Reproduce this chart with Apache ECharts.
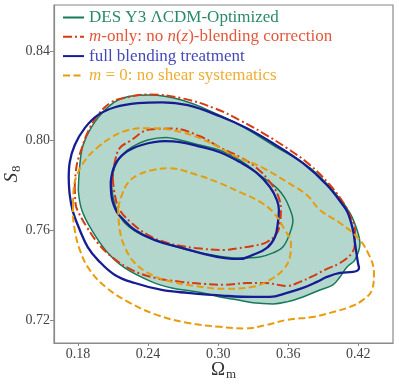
<!DOCTYPE html>
<html>
<head>
<meta charset="utf-8">
<script src="https://cdn.jsdelivr.net/npm/echarts@6.0.0/dist/echarts.min.js"></script>
<style>
html, body { margin: 0; padding: 0; background: #fff; }
#chart { width: 399px; height: 387px; }
</style>
</head>
<body>
<div id="chart"></div>
<script>
// axis ticks
var xTicks = [0.18, 0.24, 0.30, 0.36, 0.42];
var yTicks = [0.72, 0.76, 0.80, 0.84];

// contour points [Omega_m, S8]
// DES Y3 LCDM-Optimized (filled)
var greenOuter = [
  [0.1802,0.7781],[0.1815,0.7892],[0.1843,0.7981],[0.1915,0.8061],[0.2029,0.8136],[0.2172,0.8188],
  [0.2415,0.8203],[0.2686,0.8181],[0.2972,0.8123],[0.3186,0.8070],[0.3469,0.7981],[0.3786,0.7879],
  [0.4017,0.7758],[0.4129,0.7678],[0.4189,0.7603],[0.4214,0.7545],[0.4171,0.7470],[0.4103,0.7438],
  [0.4043,0.7394],[0.3983,0.7359],[0.3871,0.7336],[0.3726,0.7305],[0.3589,0.7283],[0.3469,0.7274],
  [0.3297,0.7279],[0.3160,0.7292],[0.3014,0.7305],[0.2826,0.7327],[0.2603,0.7345],[0.2432,0.7372],
  [0.2200,0.7434],[0.2055,0.7501],[0.1917,0.7603],[0.1832,0.7692]
];
var greenInner = [
  [0.2086,0.7816],[0.2097,0.7758],[0.2132,0.7692],[0.2200,0.7634],[0.2346,0.7581],[0.2543,0.7545],
  [0.2740,0.7514],[0.2946,0.7492],[0.3057,0.7483],[0.3186,0.7478],[0.3357,0.7483],[0.3469,0.7501],
  [0.3554,0.7527],[0.3614,0.7589],[0.3640,0.7647],[0.3614,0.7696],[0.3571,0.7745],[0.3503,0.7789],
  [0.3357,0.7847],[0.3186,0.7914],[0.3014,0.7958],[0.2843,0.7981],[0.2672,0.8003],[0.2552,0.8014],
  [0.2397,0.8003],[0.2260,0.7971],[0.2175,0.7936],[0.2115,0.7883]
];
// m-only: no n(z)-blending correction
var redOuter = [
  [0.1772,0.7803],[0.1780,0.7714],[0.1802,0.7683],[0.1875,0.7616],[0.1969,0.7545],[0.2089,0.7483],
  [0.2260,0.7425],[0.2457,0.7390],[0.2689,0.7372],[0.2886,0.7363],[0.3057,0.7359],[0.3246,0.7367],
  [0.3400,0.7367],[0.3589,0.7354],[0.3700,0.7372],[0.3811,0.7398],[0.3931,0.7430],[0.4043,0.7456],
  [0.4146,0.7501],[0.4171,0.7545],[0.4171,0.7603],[0.4129,0.7669],[0.4068,0.7727],[0.3957,0.7803],
  [0.3786,0.7892],[0.3589,0.7967],[0.3383,0.8034],[0.3186,0.8091],[0.2972,0.8144],[0.2689,0.8189],
  [0.2415,0.8206],[0.2172,0.8188],[0.2072,0.8167],[0.1969,0.8114],[0.1883,0.8038],[0.1832,0.7967],
  [0.1789,0.7892]
];
var redInner = [
  [0.2097,0.7834],[0.2115,0.7758],[0.2157,0.7692],[0.2260,0.7634],[0.2397,0.7581],[0.2569,0.7545],
  [0.2800,0.7523],[0.3057,0.7514],[0.3160,0.7521],[0.3297,0.7532],[0.3417,0.7549],[0.3503,0.7589],
  [0.3529,0.7634],[0.3537,0.7692],[0.3511,0.7758],[0.3443,0.7816],[0.3332,0.7878],[0.3186,0.7927],
  [0.3014,0.7971],[0.2843,0.8020],[0.2612,0.8054],[0.2415,0.8050],[0.2243,0.7998],[0.2157,0.7967],
  [0.2115,0.7905]
];
// full blending treatment
var blueOuter = [
  [0.1720,0.7834],[0.1729,0.7758],[0.1755,0.7687],[0.1815,0.7603],[0.1883,0.7527],[0.1969,0.7470],
  [0.2115,0.7403],[0.2286,0.7367],[0.2517,0.7336],[0.2740,0.7323],[0.3057,0.7310],[0.3297,0.7305],
  [0.3443,0.7305],[0.3589,0.7323],[0.3726,0.7345],[0.3846,0.7372],[0.3931,0.7394],[0.4043,0.7412],
  [0.4154,0.7416],[0.4206,0.7434],[0.4197,0.7456],[0.4171,0.7545],[0.4154,0.7603],[0.4111,0.7678],
  [0.4068,0.7714],[0.3931,0.7803],[0.3726,0.7900],[0.3469,0.7989],[0.3246,0.8056],[0.3014,0.8109],
  [0.2740,0.8158],[0.2517,0.8171],[0.2312,0.8167],[0.2115,0.8149],[0.1969,0.8114],[0.1857,0.8056],
  [0.1772,0.7981],[0.1729,0.7905]
];
var blueInner = [
  [0.2080,0.7816],[0.2089,0.7745],[0.2132,0.7683],[0.2175,0.7656],[0.2286,0.7603],[0.2457,0.7558],
  [0.2689,0.7523],[0.2912,0.7492],[0.3057,0.7478],[0.3186,0.7474],[0.3297,0.7492],[0.3417,0.7523],
  [0.3486,0.7572],[0.3511,0.7634],[0.3520,0.7692],[0.3503,0.7736],[0.3443,0.7794],[0.3332,0.7856],
  [0.3186,0.7905],[0.3014,0.7949],[0.2843,0.7974],[0.2672,0.7994],[0.2543,0.7998],[0.2346,0.7981],
  [0.2200,0.7945],[0.2115,0.7892]
];
// m = 0: no shear systematics
var orangeOuter = [
  [0.1757,0.7714],[0.1757,0.7678],[0.1772,0.7603],[0.1815,0.7514],[0.1900,0.7425],[0.2046,0.7345],
  [0.2243,0.7279],[0.2474,0.7225],[0.2732,0.7190],[0.3014,0.7172],[0.3229,0.7165],[0.3417,0.7181],
  [0.3589,0.7203],[0.3811,0.7216],[0.3957,0.7234],[0.4129,0.7261],[0.4240,0.7292],[0.4317,0.7336],
  [0.4334,0.7412],[0.4283,0.7501],[0.4189,0.7572],[0.4043,0.7634],[0.3871,0.7692],[0.3760,0.7758],
  [0.3589,0.7816],[0.3383,0.7879],[0.3126,0.7936],[0.2972,0.7981],[0.2689,0.8038],[0.2397,0.8056],
  [0.2226,0.8047],[0.2089,0.8016],[0.1969,0.7971],[0.1875,0.7923],[0.1797,0.7856],[0.1763,0.7789]
];
var orangeInner = [
  [0.2143,0.7700],[0.2157,0.7603],[0.2200,0.7527],[0.2286,0.7456],[0.2432,0.7403],[0.2603,0.7372],
  [0.2800,0.7354],[0.3057,0.7341],[0.3297,0.7350],[0.3443,0.7381],[0.3554,0.7425],[0.3614,0.7483],
  [0.3623,0.7545],[0.3571,0.7603],[0.3469,0.7683],[0.3332,0.7736],[0.3186,0.7771],[0.3014,0.7811],
  [0.2826,0.7847],[0.2569,0.7878],[0.2432,0.7869],[0.2312,0.7847],[0.2226,0.7811],[0.2175,0.7758]
];

var names = ['DES Y3 \u039bCDM-Optimized', 'm-only: no n(z)-blending correction',
             'full blending treatment', 'm = 0: no shear systematics'];
var serif = '"Liberation Serif", "DejaVu Serif", serif';

function closed(arr) { return arr.concat([arr[0]]); }

function contour(name, pts, color, width, dash, z) {
  return {
    type: 'line', name: name, data: closed(pts),
    smooth: 0.4, symbol: 'none', z: z, animation: false,
    lineStyle: { color: color, width: width, type: dash },
    // only hides the dot that the legend adds to line icons
    itemStyle: { color: color, opacity: 0 }
  };
}

var chart = echarts.init(document.getElementById('chart'));
chart.setOption({
  backgroundColor: '#fff',
  animation: false,
  grid: { left: 54, right: 6, top: 5, bottom: 44, outerBoundsMode: 'none',
          show: true, borderColor: '#8a8a8a', borderWidth: 1.2 },
  legend: {
    orient: 'vertical', left: 62, top: 9, padding: 0,
    itemWidth: 21, itemHeight: 12, itemGap: 2.3, itemTextGap: 4,
    selectedMode: false,
    textStyle: { fontFamily: serif, fontSize: 17, rich: { i: { fontStyle: 'italic', fontFamily: serif, fontSize: 17 } } },
    formatter: function (n) {
      return n.replace('m-only', '{i|m}-only').replace('n(z)', '{i|n}({i|z})').replace('m = 0', '{i|m} = 0');
    },
    data: [
      { name: names[0], textStyle: { color: '#2a8a68' } },
      { name: names[1], textStyle: { color: '#e4573a' } },
      { name: names[2], textStyle: { color: '#4448bb' } },
      { name: names[3], textStyle: { color: '#f0ad34' } }
    ]
  },
  xAxis: {
    type: 'value', min: 0.1594, max: 0.4497,
    name: '{a|\u03a9}{b|m}', nameLocation: 'middle', nameGap: 16, nameMoveOverlap: false,
    nameTextStyle: { rich: {
      a: { fontFamily: serif, fontSize: 19, color: '#333' },
      b: { fontFamily: serif, fontSize: 13, color: '#333', padding: [9, 0, 0, 1] }
    } },
    axisLine: { show: true, lineStyle: { color: '#8a8a8a', width: 1.2 } },
    axisTick: { show: true, length: 3, customValues: xTicks, lineStyle: { color: '#8a8a8a' } },
    axisLabel: { customValues: xTicks, fontFamily: serif, fontSize: 14, color: '#444', margin: 4,
                 formatter: function (v) { return v.toFixed(2); } },
    splitLine: { show: false }
  },
  yAxis: {
    type: 'value', min: 0.71, max: 0.8604,
    name: '{a|S}{b|8}', nameLocation: 'middle', nameGap: 31, nameMoveOverlap: false,
    nameTextStyle: { rich: {
      a: { fontFamily: serif, fontSize: 19, fontStyle: 'italic', color: '#333' },
      b: { fontFamily: serif, fontSize: 13, color: '#333', padding: [9, 0, 0, 1] }
    } },
    axisLine: { show: true, lineStyle: { color: '#8a8a8a', width: 1.2 } },
    axisTick: { show: true, length: 4, customValues: yTicks, lineStyle: { color: '#8a8a8a' } },
    axisLabel: { customValues: yTicks, fontFamily: serif, fontSize: 14, color: '#444', margin: 4,
                 formatter: function (v) { return v.toFixed(2); } },
    splitLine: { show: false }
  },
  series: [
    {
      type: 'custom', name: 'fill', silent: true, z: 1,
      data: greenOuter, encode: { x: 0, y: 1 },
      renderItem: function (params, api) {
        if (params.dataIndex !== 0) return null;
        var pts = greenOuter.map(function (p) { return api.coord(p); });
        return { type: 'polygon', shape: { points: pts, smooth: 0.4 }, style: { fill: '#b3d7cd' } };
      }
    },
    contour(names[0], greenOuter, '#17795a', 1.5, 'solid', 2),
    contour(names[0], greenInner, '#17795a', 1.5, 'solid', 2),
    contour(names[1], redOuter, '#d63a10', 2, [9, 3, 2, 3], 3),
    contour(names[1], redInner, '#d63a10', 2, [9, 3, 2, 3], 3),
    contour(names[2], blueOuter, '#161d92', 2.3, 'solid', 4),
    contour(names[2], blueInner, '#161d92', 2.3, 'solid', 4),
    contour(names[3], orangeOuter, '#e89c0c', 2, [7, 3.5], 5),
    contour(names[3], orangeInner, '#e89c0c', 2, [7, 3.5], 5)
  ]
});
</script>
</body>
</html>
